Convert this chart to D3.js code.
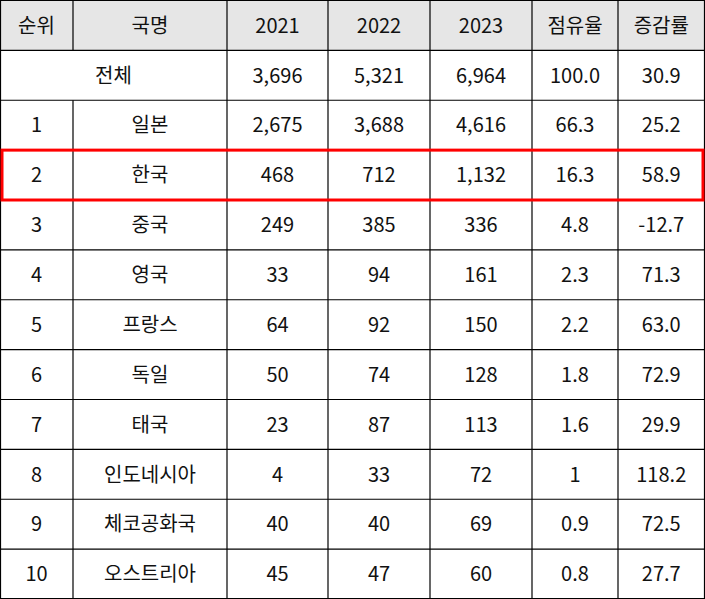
<!DOCTYPE html><html><head><meta charset="utf-8"><script src="https://cdn.jsdelivr.net/npm/d3@7"></script>
<style>body{margin:0;background:#fff}</style></head><body><svg id="c" width="705" height="599"></svg>
<script>
const headers=["순위","국명","2021","2022","2023","점유율","증감률"];
const ranks=["","1","2","3","4","5","6","7","8","9","10"];
const countries=["전체","일본","한국","중국","영국","프랑스","독일","태국","인도네시아","체코공화국","오스트리아"];
const v2021=["3,696","2,675","468","249","33","64","50","23","4","40","45"];
const v2022=["5,321","3,688","712","385","94","92","74","87","33","40","47"];
const v2023=["6,964","4,616","1,132","336","161","150","128","113","72","69","60"];
const share=["100.0","66.3","16.3","4.8","2.3","2.2","1.8","1.6","1","0.9","0.8"];
const growth=["30.9","25.2","58.9","-12.7","71.3","63.0","72.9","29.9","118.2","72.5","27.7"];
const colX=[0,73,227,328,430,532,618,704.5];
const rowH=49.9;
const svg=d3.select("#c");
const font="'Noto Sans CJK KR','Noto Sans',sans-serif";
const y=d3.scaleLinear().domain([0,12]).range([0.5,599]);
svg.append("rect").attr("x",0.5).attr("y",0.5).attr("width",704).attr("height",y(1)-0.5).attr("fill","#e6e6e6");
const g=svg.append("g").attr("font-family",font).attr("font-size",20).attr("fill","#111").attr("text-anchor","middle");
headers.forEach((h,i)=>g.append("text").attr("x",(colX[i]+colX[i+1])/2).attr("y",y(0.5)).attr("dy","0.36em").text(h));
const cols=[ranks,countries,v2021,v2022,v2023,share,growth];
for(let r=0;r<11;r++){
  cols.forEach((c,i)=>{
    if(r===0&&i===0)return;
    let x=(colX[i]+colX[i+1])/2;
    if(r===0&&i===1)x=(colX[0]+colX[2])/2;
    g.append("text").attr("x",x).attr("y",y(r+1.5)).attr("dy","0.36em").text(c[r]);
  });
}
const ln=svg.append("g").attr("stroke","#000").attr("stroke-width",1.2);
for(let r=0;r<=12;r++){const yy=Math.min(y(r),598.5);ln.append("line").attr("x1",0).attr("x2",705).attr("y1",yy).attr("y2",yy);}
colX.forEach((x,i)=>{const xx=i===0?0.5:x;ln.append("line").attr("x1",xx).attr("x2",xx).attr("y1",(i===1)?y(2):0).attr("y2",599);
 if(i===1)ln.append("line").attr("x1",xx).attr("x2",xx).attr("y1",0).attr("y2",y(1));});
svg.append("rect").attr("x",2).attr("y",y(3)).attr("width",701).attr("height",y(4)-y(3)).attr("fill","none").attr("stroke","#f00").attr("stroke-width",3);
</script></body></html>
